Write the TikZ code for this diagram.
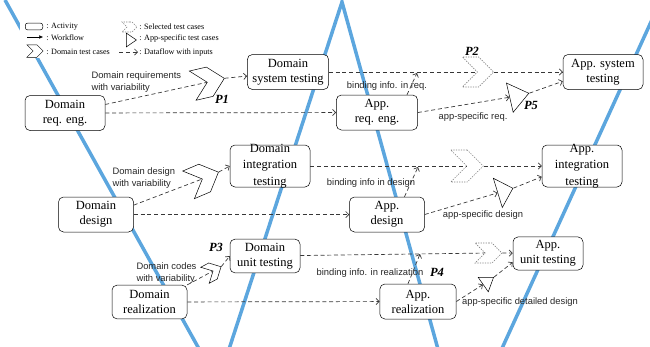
\documentclass[tikz,border=0pt]{standalone}
\usepackage{fontspec}
\setmainfont{Liberation Serif}
\setsansfont{Liberation Sans}
\usetikzlibrary{arrows.meta,shapes.symbols,shapes.geometric}

\definecolor{vblue}{RGB}{92,166,222}
\definecolor{flowgray}{RGB}{55,55,55}

\tikzset{
  act/.style={draw, rounded corners=4pt, fill=white, align=center, inner sep=0pt,
    font=\fontsize{10}{12}\selectfont, minimum width=64pt, minimum height=28pt},
  dtc/.style={shape=signal, signal from=west, signal to=east, signal pointer angle=90,
    draw, fill=white, inner sep=0pt, minimum width=26pt, minimum height=24pt},
  stc/.style={dtc, draw=black!50, line width=0.5pt, dash pattern=on 1pt off 1pt},
  atc/.style={shape=isosceles triangle, isosceles triangle stretches, draw, fill=white,
    inner sep=0pt, minimum width=24pt, minimum height=15.6pt},
  data/.style={draw=flowgray, line width=0.55pt, dash pattern=on 3.2pt off 2.2pt},
  datato/.style={data, -{Straight Barb[length=2.5pt,width=5pt]}},
  note/.style={font=\sffamily\fontsize{7.5}{9}\selectfont, text=black!85, inner sep=1pt},
  pname/.style={font=\bfseries\itshape\fontsize{10}{12}\selectfont, inner sep=0pt},
  lgd/.style={font=\fontsize{6.5}{8}\selectfont, anchor=west, inner sep=0pt},
  vline/.style={vblue, line width=2.8pt},
}

\begin{document}
\begin{tikzpicture}[x=0.8pt,y=-0.8pt]

\useasboundingbox (0,0) rectangle (650,346);

% the two V's, cut at the page edge
\scope
\clip (0,0) rectangle (650,346);
\coordinate (dtop) at (5,0);
\coordinate (dbot) at (218,383);
\coordinate (peak) at (342,2);
\coordinate (abot) at (462,436);
\coordinate (atop) at (661,0);
\draw[vline] (dtop) -- (dbot) -- (peak) -- (abot) -- (atop);
\endscope

% legend
\fill[white] (20,17) rectangle (240,58);
\node[draw, rounded corners=2pt, minimum width=14pt, minimum height=5.5pt, inner sep=0pt]
  (lgact) at (34,26.5) {};
\node[lgd] at (46,26.5) {: Activity};
\coordinate (lgwa) at (27,37);
\coordinate (lgwb) at (43,37);
\draw[-{Latex[length=3pt,width=3pt]}] (lgwa) -- (lgwb);
\node[lgd] at (46,37.5) {: Workflow};
\node[dtc, minimum width=13pt, minimum height=10pt] (lgdtc) at (35,51) {};
\node[lgd] at (46,51.5) {: Domain test cases};
\node[stc, minimum width=12pt, minimum height=8pt] (lgstc) at (129.5,27) {};
\node[lgd] at (139,26.5) {: Selected test cases};
\node[atc, minimum width=11pt, minimum height=8pt] (lgatc) at (130,40) {};
\node[lgd] at (139,39) {: App-specific test cases};
\coordinate (lgda) at (119,52);
\coordinate (lgdb) at (138,52);
\draw[datato] (lgda) -- (lgdb);
\node[lgd] at (139,52.5) {: Dataflow with inputs};

% activities
\node[act] (dreq) at (65,113) {Domain\\req. eng.};
\node[act, minimum width=65pt] (dsys) at (288,72) {Domain\\system testing};
\node[act, minimum width=65pt] (areq) at (377,112.5) {App.\\req. eng.};
\node[act] (asys) at (603,72) {App. system\\testing};

\node[act, minimum width=60pt] (ddes) at (96,214.5) {Domain\\design};
\node[act, minimum height=33.6pt, inner ysep=-3pt, font=\fontsize{10}{13}\selectfont]
  (dint) at (270,166) {Domain\\integration\\testing};
\node[act, minimum width=60pt] (ades) at (387,214.5) {App.\\design};
\node[act, minimum height=33.6pt, inner ysep=-3pt, font=\fontsize{10}{13}\selectfont]
  (aint) at (582,166) {App.\\integration\\testing};

\node[act, minimum width=60pt, minimum height=27pt] (drea) at (149.5,302) {Domain\\realization};
\node[act, minimum width=56pt, minimum height=27pt] (dunit) at (265,256) {Domain\\unit testing};
\node[act, minimum width=61pt] (area) at (418,301.5) {App.\\realization};
\node[act, minimum width=56pt, minimum height=26.5pt] (aunit) at (548,253.5) {App.\\unit testing};

% test cases
\node[dtc, rotate=13] (dtc1) at (208.5,82) {};
\node[dtc, rotate=23] (dtc2) at (203.5,178.5) {};
\node[dtc, rotate=28, minimum width=14.5pt, minimum height=14.5pt] (dtc3) at (213,271) {};
\node[stc, minimum width=25pt, minimum height=24pt] (stc1) at (478,72) {};
\node[stc, minimum width=26pt, minimum height=25.6pt] (stc2) at (467,166) {};
\node[stc, minimum width=21.5pt, minimum height=16pt] (stc3) at (488.5,253) {};
\node[atc, rotate=13] (atc1) at (517,96) {};
\node[atc, rotate=17, minimum width=24.5pt, minimum height=12.6pt] (atc2) at (504,191) {};
\node[atc, rotate=35, minimum width=14pt, minimum height=10pt] (atc3) at (487,282) {};

\node[pname] at (222,99) {P1};
\node[pname] at (472,51) {P2};
\node[pname] at (216,247) {P3};
\node[pname] at (437,272) {P4};
\node[pname] at (531,105) {P5};

% dataflow, requirements level
\coordinate (bind1) at (417,73);
\draw[data] (dreq.12) -- (dtc1);
\draw[datato] (dtc1.east) -- (dsys);
\draw[datato] (dreq) -- (areq);
\draw[data] (dsys) -- (stc1);
\draw[datato] (stc1.east) -- (asys);
\draw[datato] ([xshift=24pt]areq.north) -- (bind1);
\draw[datato] (areq.east) -- (atc1);
\draw[datato] (atc1.apex) -- (asys.193);

% dataflow, design level
\coordinate (bind2) at (418,167);
\draw[data] (ddes.14) -- (dtc2);
\draw[datato] (dtc2.east) -- (dint.west);
\draw[datato] (ddes) -- (ades);
\draw[data] (dint) -- (stc2);
\draw[datato] (stc2.east) -- (aint);
\draw[datato] ([xshift=14pt]ades.north) -- (bind2);
\draw[datato] (ades.east) -- (atc2);
\draw[datato] (atc2.apex) -- (aint.195);

% dataflow, realization level
\coordinate (bind3) at (420,254);
\draw[data] (drea.north east) -- (dtc3);
\draw[datato] (dtc3.east) -- (dunit.west);
\draw[datato] (drea) -- (area);
\draw[data] (dunit) -- (stc3);
\draw[datato] (stc3.east) -- (aunit);
\draw[datato] ([xshift=-8pt]area.north) -- (bind3);
\draw[datato] (area.east) -- (atc3);
\draw[datato] (atc3.apex) -- (aunit.194);

% flow labels
\node[note, align=left, anchor=west] (lreq) at (90,82) {Domain requirements\\with variability};
\node[note, align=left, anchor=west] (ldes) at (111,178) {Domain design\\with variability};
\node[note, align=left, anchor=west] (lrea) at (135,273) {Domain codes\\with variability};
\node[note] (lb1) at (387,86) {binding info. in req.};
\node[note] (lb2) at (371,183) {binding info in design};
\node[note] (lb3) at (370,273) {binding info. in realization};
\node[note] (la1) at (473,117) {app-specific req.};
\node[note] (la2) at (483,215) {app-specific design};
\node[note] (la3) at (520,302) {app-specific detailed design};

\end{tikzpicture}
\end{document}
